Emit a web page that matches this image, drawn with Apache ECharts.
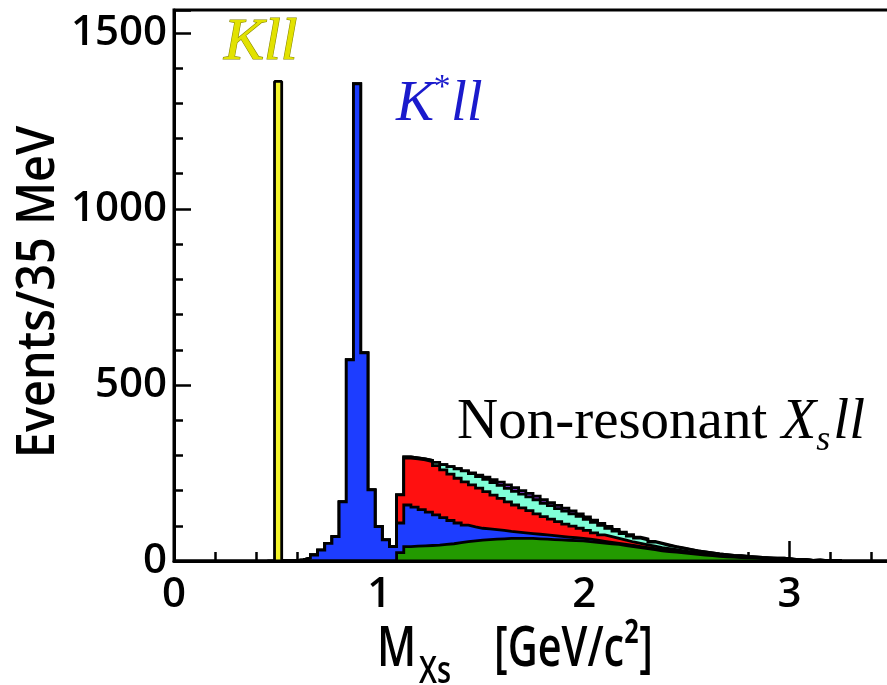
<!DOCTYPE html>
<html>
<head>
<meta charset="utf-8">
<script src="https://cdn.jsdelivr.net/npm/echarts@6.0.0/dist/echarts.min.js"></script>
<style>
html,body{margin:0;padding:0;background:#fff;}
#c{width:887px;height:685px;}
</style>
</head>
<body>
<div id="c"></div>
<script>
// ---------------- data ----------------
const binWidth = 0.035;          // GeV, 35 MeV bins
const xMin = 0, xMax = 3.5;
const yMin = 0, yMax = 1565;
const yTickStep = 500;           // tick labels 0, 500, 1000, 1500
const xTickStep = 1;             // tick labels 0, 1, 2, 3

// K ll peak (yellow)
const kllStart = 0.49;
const kllValues = [1362];

// K* ll peak (blue), bins starting at 0.56 GeV
const kstarStart = 0.56;
const kstarValues = [1, 3, 8, 17, 31, 50, 69, 168, 571, 1355, 591, 202, 98, 60, 41];

// Non-resonant Xs ll components, bins starting at 1.085 GeV (stack order bottom -> top)
const nonresStart = 1.085;
const greenValues = [24, 41, 42, 43, 44, 45, 47, 49, 52, 55, 57, 59, 61, 62, 63, 64, 64, 64, 64, 63, 62, 61, 60, 59, 58, 57, 55, 53, 51, 49, 47, 44, 41, 38, 35, 32, 29, 27, 25, 23, 21, 19, 17, 15, 13, 12, 11, 10, 9, 8, 7, 6, 5, 5, 4, 3, 3, 2, 2, 1, 1];
const blueValues = [84, 118, 111, 103, 95, 86, 76, 66, 56, 47, 40, 34, 30, 27, 24, 20, 18, 16, 14, 13, 12, 11, 10, 9, 8, 7, 7, 6, 5, 4, 3, 3, 3, 3, 3, 3, 3, 3, 3, 2, 2, 2, 2, 2, 2, 1, 1, 1, 1, 1, 1, 1, 1, 1, 1, 0, 0, 0, 0, 0, 0];
const redValues = [80, 133, 137, 141, 143, 140, 136, 132, 127, 123, 119, 114, 106, 98, 91, 84, 77, 71, 65, 58, 52, 47, 42, 37, 33, 29, 25, 21, 18, 16, 14, 12, 10, 9, 8, 7, 6, 5, 4, 4, 3, 2, 2, 2, 2, 2, 2, 2, 1, 1, 1, 1, 1, 1, 0, 0, 0, 0, 0, 0, 0];
const aquaValues = [0, 4, 3, 3, 4, 9, 15, 21, 27, 31, 32, 33, 35, 36, 37, 38, 39, 39, 39, 40, 38, 38, 37, 37, 35, 34, 31, 30, 27, 24, 21, 19, 17, 15, 14, 12, 11, 9, 8, 7, 6, 6, 5, 4, 3, 3, 2, 2, 2, 2, 1, 1, 1, 1, 1, 1, 1, 0, 1, 0, 0];
const purpleValues = [0, 0, 0, 0, 0, 0, 0, 0, 0, 0, 2, 4, 6, 8, 9, 10, 10, 10, 10, 10, 10, 9, 9, 8, 8, 7, 7, 6, 6, 5, 5, 4, 4, 3, 3, 2, 2, 2, 1, 1, 1, 0, 0, 0, 0, 0, 0, 0, 0, 0, 0, 0, 0, 0, 0, 0, 0, 0, 0, 0, 0];

// ---------------- build histogram tables ----------------
const N = Math.round((xMax - xMin) / binWidth);
const edge = i => Math.round((xMin + i * binWidth) * 100000) / 100000;
function toGrid(start, vals) {
  const a = new Array(N).fill(0);
  const i0 = Math.round((start - xMin) / binWidth);
  vals.forEach((v, k) => { a[i0 + k] += v; });
  return a;
}
const blueNR = toGrid(nonresStart, blueValues);
const layers = [
  { color: '#239a00', vals: toGrid(nonresStart, greenValues) },
  { color: '#1d3dff', vals: toGrid(kstarStart, kstarValues).map((v, i) => v + blueNR[i]) },
  { color: '#ff1010', vals: toGrid(nonresStart, redValues) },
  { color: '#80ffd8', vals: toGrid(nonresStart, aquaValues) },
  { color: '#9a44f0', vals: toGrid(nonresStart, purpleValues) }
];
const cums = [];
let run = new Array(N).fill(0);
layers.forEach(l => { run = run.map((v, i) => v + l.vals[i]); cums.push(run.slice()); });
const total = cums[cums.length - 1];
let iFirst = total.findIndex(v => v > 0) - 1;
let iLast = N - 1; while (iLast > 0 && total[iLast] === 0) iLast--;

function histData(arr, a, b) {
  const d = [];
  for (let i = a; i <= b; i++) d.push([edge(i), arr[i]]);
  d.push([edge(b + 1), 0]);
  return d;
}

const LW = 2.8;
const series = [];
for (let li = layers.length - 1; li >= 0; li--) {
  series.push({
    type: 'line', step: 'end', symbol: 'none', silent: true, clip: true,
    data: histData(cums[li], iFirst, iLast + 1),
    lineStyle: { color: '#000', width: LW, join: 'miter' },
    areaStyle: { color: layers[li].color, opacity: 1 },
    z: 2 + (layers.length - 1 - li)
  });
}
// K ll
const kllGrid = toGrid(kllStart, kllValues);
const kI = Math.round((kllStart - xMin) / binWidth);
series.push({
  type: 'line', step: 'end', symbol: 'none', silent: true,
  data: histData(kllGrid, kI - 1, kI + kllValues.length - 1),
  lineStyle: { color: '#000', width: LW },
  areaStyle: { color: '#f4f42a', opacity: 1 },
  z: 8
});
// baseline of the frame, drawn over the fills
series.push({
  type: 'line', symbol: 'none', silent: true,
  data: [[xMin, 0], [xMax, 0]],
  lineStyle: { color: '#000', width: 3 },
  z: 9
});

// ---------------- text helpers ----------------
const mctx = document.createElement('canvas').getContext('2d');
function tw(font, s) { mctx.font = font; return mctx.measureText(s).width; }
const SERIF = '"Liberation Serif", "DejaVu Serif", serif';
const SANS = '"Open Sans", "Noto Sans", sans-serif';
function txt(s, size, italic, family, x, baseline, fill, mid, extra, weight) {
  const font = (italic ? 'italic ' : '') + (weight ? weight + ' ' : '') + size + 'px ' + family;
  return Object.assign({
    type: 'text', x: x, y: baseline - mid * size, z: 100, silent: true,
    style: { text: s, font: font, fill: fill, align: 'left', verticalAlign: 'middle' }
  }, extra || {});
}
const graphics = [];
// Kll label
graphics.push({
  type: 'text', x: 224, y: 63 - 0.3375 * 60, z: 100, silent: true,
  style: { text: 'Kll', font: 'italic 60px ' + SERIF, fill: '#e2e200', stroke: '#8a8a00', lineWidth: 1.2, align: 'left', verticalAlign: 'middle' }
});
// K*ll label
(function () {
  const c = '#1a1acc';
  const fs = 57;
  let x = 396;
  graphics.push(txt('K', fs, true, SERIF, x, 124, c, 0.3375));
  x += tw('italic ' + fs + 'px ' + SERIF, 'K') - 2;
  graphics.push(txt('*', 34, true, SERIF, x, 100, c, 0.3375));
  x += tw('italic 34px ' + SERIF, '*') + 2;
  graphics.push(txt('ll', fs, true, SERIF, x, 124, c, 0.3375));
})();
// Non-resonant Xs ll label
(function () {
  const fs = 57;
  let x = 457;
  const s1 = 'Non-resonant ';
  graphics.push(txt(s1, fs, false, SERIF, x, 442, '#000', 0.3375));
  x += tw(fs + 'px ' + SERIF, s1);
  graphics.push(txt('X', fs, true, SERIF, x, 442, '#000', 0.3375));
  x += tw('italic ' + fs + 'px ' + SERIF, 'X');
  graphics.push(txt('s', 36, true, SERIF, x, 453, '#000', 0.3375));
  x += tw('italic 36px ' + SERIF, 's') + 3;
  graphics.push(txt('ll', fs, true, SERIF, x, 442, '#000', 0.3375));
})();
// y axis title
graphics.push({
  type: 'text', x: 39, y: 292, rotation: Math.PI / 2, scaleX: 0.9, z: 100, silent: true,
  style: { text: 'Events/35 MeV', font: '600 52px ' + SANS, fill: '#000', align: 'center', verticalAlign: 'middle' }
});
// x axis title
(function () {
  graphics.push(txt('M', 56, false, SANS, 377, 672, '#000', 0.388, { scaleX: 0.76 }, 600));
  graphics.push(txt('Xs', 38, false, SANS, 419, 687, '#000', 0.388, { scaleX: 0.76 }, 600));
  graphics.push(txt('[GeV/c\u00B2]', 56, false, SANS, 494, 672, '#000', 0.388, { scaleX: 0.74 }, 600));
})();

// ---------------- chart ----------------
const chart = echarts.init(document.getElementById('c'), null, { renderer: 'canvas', width: 887, height: 685 });
const axisFont = { color: '#000', fontFamily: SANS, fontSize: 42, fontWeight: 600, formatter: v => String(v) };
chart.setOption({
  animation: false,
  backgroundColor: '#fff',
  grid: { left: 174, right: -5, top: 10, bottom: 124, show: true, borderColor: '#000', borderWidth: 3,
          containLabel: false, outerBoundsMode: 'none' },
  xAxis: {
    type: 'value', min: xMin, max: xMax, interval: xTickStep,
    axisLine: { show: true, onZero: false, lineStyle: { color: '#000', width: 3 } },
    axisTick: { show: true, inside: true, length: 20, lineStyle: { color: '#000', width: 2.5 } },
    minorTick: { show: true, splitNumber: 5, length: 9, lineStyle: { color: '#000', width: 2.5 } },
    splitLine: { show: false },
    axisLabel: Object.assign({ margin: 13, showMaxLabel: false }, axisFont)
  },
  yAxis: {
    type: 'value', min: yMin, max: yMax, interval: yTickStep,
    axisLine: { show: true, lineStyle: { color: '#000', width: 3 } },
    axisTick: { show: true, inside: true, length: 17, lineStyle: { color: '#000', width: 2.5 } },
    minorTick: { show: true, splitNumber: 5, length: 9, lineStyle: { color: '#000', width: 2.5 } },
    splitLine: { show: false },
    axisLabel: Object.assign({ margin: 7, showMaxLabel: false }, axisFont)
  },
  series: series,
  graphic: graphics
});
</script>
</body>
</html>
